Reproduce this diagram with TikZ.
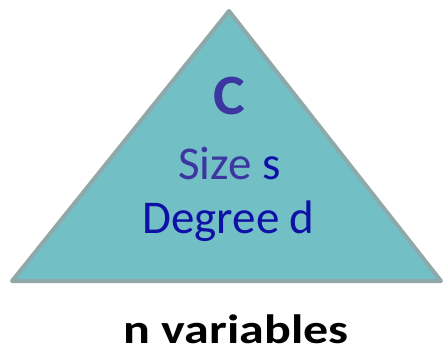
\documentclass[tikz,border=0pt]{standalone}
\usepackage{fontspec}
\setmainfont{Carlito}
\usetikzlibrary{positioning}
\definecolor{TriFill}{HTML}{72BFC6}
\definecolor{TriEdge}{HTML}{8FA8AA}
\definecolor{LabelPurple}{HTML}{3D36A0}
\definecolor{LabelBlue}{HTML}{0E10A6}
\tikzset{
  tri/.style={fill=TriFill, draw=TriEdge, line width=4pt, line join=round},
  bigtext/.style={inner sep=0pt, anchor=base},
  circtext/.style={bigtext, font=\fontsize{57}{57}\selectfont\bfseries, text=LabelPurple, xscale=1.05},
  infotext/.style={bigtext, font=\fontsize{47}{47}\selectfont}
}

\begin{document}
\begin{tikzpicture}[x=1pt, y=-1pt]
    \useasboundingbox (0,0) rectangle (444,354);
    \coordinate (top) at (229,11);
    \coordinate (bl) at (12,281);
    \coordinate (br) at (441,281);
    \draw[tri] (top) -- (br) -- (bl) -- cycle;

    \node[circtext] (circ) at (229,114) {C};
    \node[infotext] (size) at (229.5,179) {\textcolor{LabelPurple}{Size} \textcolor{LabelBlue}{s}};
    \node[infotext, text=LabelBlue] (deg) at (228.5,233) {Degree d};
    \node[bigtext, text depth=0pt, font=\fontsize{41}{41}\selectfont\bfseries, xscale=1.22] (vars) at (236,343) {n variables};
\end{tikzpicture}
\end{document}
